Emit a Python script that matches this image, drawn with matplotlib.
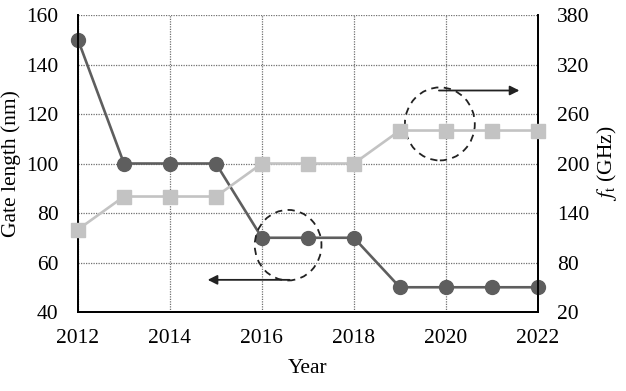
import matplotlib
matplotlib.use("Agg")
import matplotlib.pyplot as plt
from matplotlib.patches import Ellipse

plt.rcParams["font.family"] = ["Liberation Serif", "DejaVu Serif"]
plt.rcParams["mathtext.fontset"] = "stix"

# Data
years = [2012, 2013, 2014, 2015, 2016, 2017, 2018, 2019, 2020, 2021, 2022]
gate_length = [150, 100, 100, 100, 70, 70, 70, 50, 50, 50, 50]
ft_ghz = [120, 160, 160, 160, 200, 200, 200, 240, 240, 240, 240]

x_ticks = [2012, 2014, 2016, 2018, 2020, 2022]
left_ticks = [40, 60, 80, 100, 120, 140, 160]
right_ticks = [20, 80, 140, 200, 260, 320, 380]

dark = "#5e5e5e"
light = "#c3c3c3"
fs = 15.5

fig = plt.figure(figsize=(6.26, 3.91), dpi=100)
ax = fig.add_axes([0.1246, 0.202, 0.7345, 0.7596])
ax2 = ax.twinx()

# Gate length (circles, left axis)
ax.plot(years, gate_length, "-o", color=dark, lw=1.9, ms=10, zorder=5, clip_on=False)
# f_t (squares, right axis)
ax2.plot(years, ft_ghz, "-s", color=light, lw=1.9, ms=9.5, zorder=4, clip_on=False)

ax.set_xlim(2012, 2022)
ax.set_ylim(40, 160)
ax2.set_ylim(20, 380)
ax.set_xticks(x_ticks)
ax.set_yticks(left_ticks)
ax2.set_yticks(right_ticks)

ax.grid(True, linestyle=(0, (1, 1)), color="#707070", lw=0.9)
ax.set_axisbelow(True)

for a in (ax, ax2):
    a.tick_params(axis="y", length=0, labelsize=fs, pad=14)
    a.tick_params(axis="x", length=0, labelsize=fs, pad=12)
    a.spines["top"].set_visible(False)
    for s in ("left", "right", "bottom"):
        a.spines[s].set_linewidth(1.3)
        a.spines[s].set_color("black")

ax.set_xlabel("Year", fontsize=fs, labelpad=8)
ax.set_ylabel("Gate length (nm)", fontsize=fs, labelpad=4)
ax2.set_ylabel(r"$f_{\rm t}$ (GHz)", fontsize=fs, labelpad=4)

# Dashed circles and arrows marking which axis each series uses
ax.add_patch(Ellipse((2016.57, 67), 1.45, 28.5, fill=False, ls=(0, (4, 3)),
                     lw=1.3, color="#222222", zorder=6))
ax.add_patch(Ellipse((2019.87, 116), 1.52, 29.5, fill=False, ls=(0, (4, 3)),
                     lw=1.3, color="#222222", zorder=6))
ax.annotate("", xy=(2014.82, 53), xytext=(2016.6, 53),
            arrowprops=dict(arrowstyle="-|>", color="#222222", lw=1.3,
                            mutation_scale=14, shrinkA=0, shrinkB=0), zorder=6)
ax.annotate("", xy=(2021.6, 129.5), xytext=(2019.85, 129.5),
            arrowprops=dict(arrowstyle="-|>", color="#222222", lw=1.3,
                            mutation_scale=14, shrinkA=0, shrinkB=0), zorder=6)

plt.savefig("out.png", dpi=100)
